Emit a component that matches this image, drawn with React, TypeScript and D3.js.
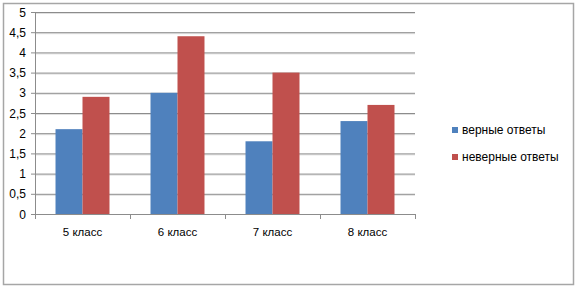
import * as d3 from 'd3';

const categories = ['5 класс', '6 класс', '7 класс', '8 класс'];
const seriesNames = ['верные ответы', 'неверные ответы'];
const correct = [2.1, 3.0, 1.8, 2.3];
const wrong = [2.9, 4.4, 3.5, 2.7];
const yTickValues = [0, 0.5, 1, 1.5, 2, 2.5, 3, 3.5, 4, 4.5, 5];
const colors = ['#4f81bd', '#c0504d'];

const W = 577;
const H = 290;
const plot = { left: 35, right: 415, top: 12, bottom: 214 };
const font = '"Liberation Sans", Arial, sans-serif';

export default function App() {
  const x0 = d3.scaleBand().domain(categories).range([plot.left, plot.right]).paddingInner(0).paddingOuter(0);
  const x1 = d3
    .scaleBand()
    .domain(seriesNames)
    .range([0, x0.bandwidth()])
    .paddingOuter(0.76)
    .paddingInner(0);
  const y = d3.scaleLinear().domain([0, 5]).range([plot.bottom, plot.top]);
  const fmt = (v: number) => String(v).replace('.', ',');
  const series = [correct, wrong];

  return (
    <svg
      width={W}
      height={H}
      style={{ position: 'absolute', left: 0, top: 0, background: '#fff' }}
      fontFamily={font}
    >
      {/* outer frame */}
      <rect x={3.5} y={3.5} width={570} height={281} fill="#fff" stroke="#a6a6a6" strokeWidth={1.5} />

      {/* grid */}
      {yTickValues.map((t) => (
        <g key={t}>
          {t > 0 && (
            <>
              <line x1={plot.left} x2={plot.right} y1={y(t) + 1.5} y2={y(t) + 1.5} stroke="#e0e0e0" />
              <line x1={plot.left} x2={plot.right} y1={y(t) + 0.5} y2={y(t) + 0.5} stroke="#8c8c8c" />
            </>
          )}
          <line x1={plot.left - 4} x2={plot.left} y1={y(t) + 0.5} y2={y(t) + 0.5} stroke="#8c8c8c" />
          <text x={plot.left - 9} y={y(t) + 4.5} fontSize={12} textAnchor="end" fill="#000">
            {fmt(t)}
          </text>
        </g>
      ))}

      {/* bars */}
      {categories.map((c, i) => (
        <g key={c} transform={`translate(${x0(c)},0)`}>
          {series.map((s, j) => (
            <rect
              key={j}
              x={x1(seriesNames[j])}
              y={y(s[i])}
              width={x1.bandwidth()}
              height={plot.bottom - y(s[i])}
              fill={colors[j]}
            />
          ))}
        </g>
      ))}

      {/* axes */}
      <line x1={plot.left + 0.5} x2={plot.left + 0.5} y1={plot.top} y2={plot.bottom} stroke="#8c8c8c" />
      <line x1={plot.left} x2={plot.right} y1={plot.bottom + 0.5} y2={plot.bottom + 0.5} stroke="#8c8c8c" />
      {[...categories.map((c) => x0(c)!), plot.right].map((xv, i) => (
        <line key={i} x1={xv + 0.5} x2={xv + 0.5} y1={plot.bottom} y2={plot.bottom + 5} stroke="#8c8c8c" />
      ))}
      {categories.map((c) => (
        <text key={c} x={x0(c)! + x0.bandwidth() / 2} y={236} fontSize={11.5} textAnchor="middle" fill="#000">
          {c}
        </text>
      ))}

      {/* legend */}
      {seriesNames.map((n, j) => (
        <g key={n} transform={`translate(452,${130 + j * 27})`}>
          <rect x={0} y={-3} width={6} height={6} fill={colors[j]} />
          <text x={10} y={4} fontSize={12} fill="#000">
            {n}
          </text>
        </g>
      ))}
    </svg>
  );
}
